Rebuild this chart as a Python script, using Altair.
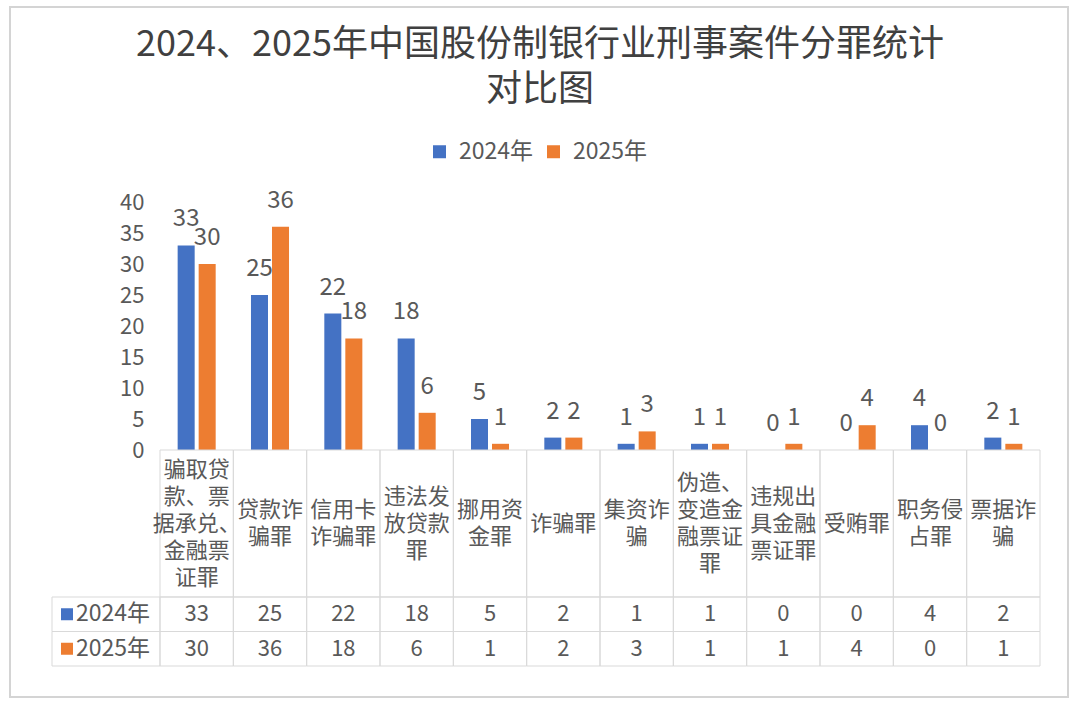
import altair as alt
import pandas as pd

# ---- data -------------------------------------------------------------
categories = [
    "骗取贷款、票据承兑、金融票证罪", "贷款诈骗罪", "信用卡诈骗罪", "违法发放贷款罪",
    "挪用资金罪", "诈骗罪", "集资诈骗", "伪造、变造金融票证罪",
    "违规出具金融票证罪", "受贿罪", "职务侵占罪", "票据诈骗",
]
category_lines = [
    ["骗取贷", "款、票", "据承兑、", "金融票", "证罪"],
    ["贷款诈", "骗罪"],
    ["信用卡", "诈骗罪"],
    ["违法发", "放贷款", "罪"],
    ["挪用资", "金罪"],
    ["诈骗罪"],
    ["集资诈", "骗"],
    ["伪造、", "变造金", "融票证", "罪"],
    ["违规出", "具金融", "票证罪"],
    ["受贿罪"],
    ["职务侵", "占罪"],
    ["票据诈", "骗"],
]
series = ["2024年", "2025年"]
values_2024 = [33, 25, 22, 18, 5, 2, 1, 1, 0, 0, 4, 2]
values_2025 = [30, 36, 18, 6, 1, 2, 3, 1, 1, 4, 0, 1]
colors = ["#4472C4", "#ED7D31"]
title_lines = ["2024、2025年中国股份制银行业刑事案件分罪统计", "对比图"]
y_ticks = [0, 5, 10, 15, 20, 25, 30, 35, 40]

# ---- tables built from the lists --------------------------------------
long = pd.DataFrame(
    [{"category": c, "series": series[0], "value": v} for c, v in zip(categories, values_2024)]
    + [{"category": c, "series": series[1], "value": v} for c, v in zip(categories, values_2025)]
)
header = pd.DataFrame({"category": categories, "row": "header"})
# one record per wrapped line; "pos" is the line's place around the cell's middle
header_lines = pd.DataFrame(
    [
        {"category": c, "text": t, "pos": i - (len(lines) - 1) / 2}
        for c, lines in zip(categories, category_lines)
        for i, t in enumerate(lines)
    ]
)
rows = pd.DataFrame({"series": series, "swatch": colors})
title_df = pd.DataFrame({"lines": [title_lines]})
frame_df = pd.DataFrame({"k": [0]})

# ---- style / layout ---------------------------------------------------
FONT = "Noto Sans CJK SC"
TEXT = "#595959"
GRID = "#d9d9d9"
W = 880          # plot width
BAR_H = 248      # height of the value axis
HEAD_H = 147     # category row of the data table
ROW_H = 34.5     # each series row of the data table
LINE_H = 27      # line spacing inside the category row
H = BAR_H + HEAD_H + 2 * ROW_H

x_enc = alt.X(
    "category:N", sort=categories,
    scale=alt.Scale(domain=categories, paddingInner=0, paddingOuter=0),
    axis=None,
)
off_enc = alt.XOffset(
    "series:N", sort=series,
    scale=alt.Scale(domain=series, paddingInner=0.19, paddingOuter=0.84),
)
val_scale = alt.Scale(domain=[0, 40], range=[BAR_H, 0], nice=False)
head_y = alt.Y(
    "row:N", axis=None,
    scale=alt.Scale(domain=["header"], range=[BAR_H, BAR_H + HEAD_H], paddingInner=0, paddingOuter=0),
)
half = HEAD_H / 2 / LINE_H
line_y = alt.Y(
    "pos:Q", axis=None,
    scale=alt.Scale(domain=[-half, half], range=[BAR_H, BAR_H + HEAD_H], nice=False, zero=False),
)
row_y = alt.Y(
    "series:N", sort=series, axis=None,
    scale=alt.Scale(domain=series, range=[BAR_H + HEAD_H, H], paddingInner=0, paddingOuter=0),
)

# outer frame and title
frame = alt.Chart(frame_df).mark_rect(fill="transparent", stroke="#d4d4d4", strokeWidth=2).encode(
    x=alt.value(-150), x2=alt.value(908), y=alt.value(-195), y2=alt.value(495)
)
title = alt.Chart(title_df).mark_text(
    font=FONT, fontSize=36, lineHeight=45, align="center", baseline="middle", color="#404040"
).encode(x=alt.value(380), y=alt.value(-157), text="lines")

# bars and value labels
bars = alt.Chart(long).mark_bar().encode(
    x=x_enc,
    xOffset=off_enc,
    y=alt.Y(
        "value:Q", scale=val_scale, title=None,
        axis=alt.Axis(values=y_ticks, grid=False, domain=False, ticks=False,
                      labelFontSize=22, labelPadding=16, labelColor=TEXT, labelFont=FONT),
    ),
    color=alt.Color(
        "series:N", sort=series, scale=alt.Scale(domain=series, range=colors),
        legend=alt.Legend(
            title=None, orient="none", direction="horizontal", legendX=268, legendY=-62,
            symbolType="square", symbolSize=169, symbolStrokeWidth=0,
            labelFontSize=23, labelFont=FONT, labelColor=TEXT, labelOffset=8, columnPadding=8,
        ),
    ),
)
bar_labels = alt.Chart(long).mark_text(
    font=FONT, fontSize=24, color=TEXT, baseline="alphabetic", dy=-19
).encode(
    x=x_enc, xOffset=off_enc,
    y=alt.Y("value:Q", scale=val_scale, axis=None),
    text="value:Q",
)

# data table: category row
head_cells = alt.Chart(header).mark_rect(fill="transparent", stroke=GRID, strokeWidth=1).encode(
    x=x_enc, y=head_y
)
head_text = alt.Chart(header_lines).mark_text(
    font=FONT, fontSize=22, color=TEXT, baseline="middle"
).encode(x=x_enc, y=line_y, text="text:N")

# data table: series rows
row_cells = alt.Chart(long).mark_rect(fill="transparent", stroke=GRID, strokeWidth=1).encode(
    x=x_enc, y=row_y
)
row_text = alt.Chart(long).mark_text(
    font=FONT, fontSize=22, color=TEXT, baseline="middle"
).encode(x=x_enc, y=row_y, text="value:Q")
key_cells = alt.Chart(rows).mark_rect(fill="transparent", stroke=GRID, strokeWidth=1).encode(
    x=alt.value(-108), x2=alt.value(0), y=row_y
)
key_swatch = alt.Chart(rows).mark_square(size=144, opacity=1).encode(
    x=alt.value(-93), y=row_y, fill=alt.Fill("swatch:N", scale=None)
)
key_text = alt.Chart(rows).mark_text(
    font=FONT, fontSize=23, color=TEXT, align="left", baseline="middle"
).encode(x=alt.value(-84), y=row_y, text="series:N")

chart = (
    alt.layer(
        frame, title, bars, bar_labels, head_cells, head_text,
        row_cells, row_text, key_cells, key_swatch, key_text,
    )
    .resolve_scale(y="independent")
    .properties(
        width=W, height=H,
        padding={"left": 9, "top": 6, "right": 4, "bottom": 4},
        view=alt.ViewBackground(stroke="transparent", strokeOpacity=0, strokeWidth=0),
    )
    .configure_view(stroke="transparent", strokeOpacity=0, strokeWidth=0)
    .configure(background="white")
)

chart.save("out.html", embed_options={"renderer": "svg", "actions": False})
